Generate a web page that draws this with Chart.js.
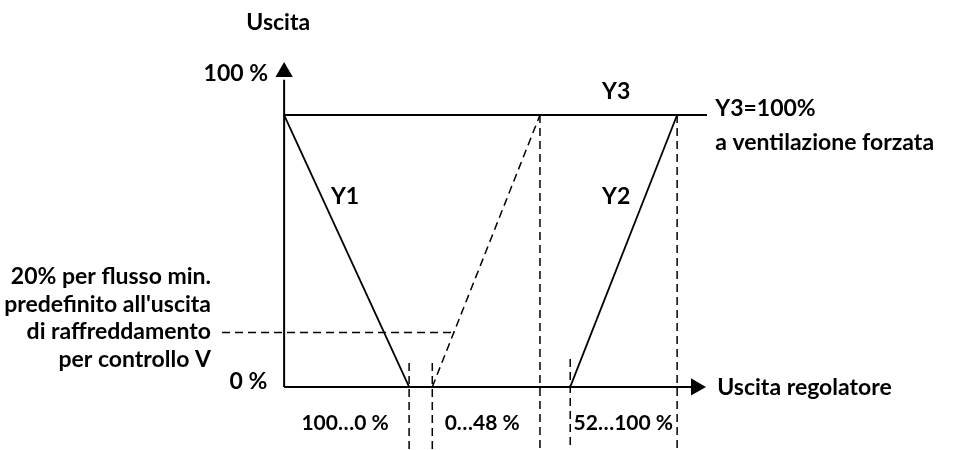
<!DOCTYPE html>
<html>
<head>
<meta charset="utf-8">
<script src="https://cdn.jsdelivr.net/npm/chart.js@4.4.1/dist/chart.umd.min.js"></script>
<style>
  html, body { margin: 0; padding: 0; background: #fff; }
  #wrap { width: 953px; height: 450px; }
</style>
</head>
<body>
<div id="wrap"><canvas id="diagram" width="953" height="450"></canvas></div>
<script>
// x = controller output position (schematic, Y2 end = 100), y = output %
const xY1End = 31.8;
const xCoolStart = 37.7;
const xCoolEnd = 65.1;
const xY2Start = 72.8;
const xY2End = 100;
const xLineEnd = 107.6;
const minFlow = 20;
const yBottom = -23.2;

const y1Line = [{ x: 0, y: 100 }, { x: xY1End, y: 0 }];
const y2Line = [{ x: xY2Start, y: 0 }, { x: xY2End, y: 100 }];
const y3Line = [{ x: 0, y: 100 }, { x: xLineEnd, y: 100 }];
const coolLine = [{ x: xCoolStart, y: 0 }, { x: xCoolEnd, y: 100 }];
const minFlowLine = [{ x: -15.8, y: minFlow }, { x: 43.5, y: minFlow }];
const markers = [
  [{ x: xY1End, y: 8.8 }, { x: xY1End, y: yBottom }],
  [{ x: xCoolStart, y: 8.8 }, { x: xCoolStart, y: yBottom }],
  [{ x: xCoolEnd, y: 100 }, { x: xCoolEnd, y: yBottom }],
  [{ x: xY2Start, y: 10.3 }, { x: xY2Start, y: yBottom }],
  [{ x: xY2End, y: 100 }, { x: xY2End, y: yBottom }]
];
const xAxis = [{ x: 0, y: 0 }, { x: 104, y: 0 }];
const yAxis = [{ x: 0, y: 0 }, { x: 0, y: 113 }];
const xArrow = [{ x: 104.8, y: 0 }];
const yArrow = [{ x: 0, y: 115.8 }];

const rangeLabels = ['100…0 %', '0…48 %', '52…100 %'];
const minFlowText = [
  '20% per flusso min.',
  "predefinito all'uscita",
  'di raffreddamento',
  'per controllo V'
];

const labels = [
  { text: 'Uscita', x: -1.5, y: 134, align: 'center' },
  { text: '100 %', x: -4.1, y: 115.4, align: 'right' },
  { text: '0 %', x: -4.3, y: 1.8, align: 'right' },
  { text: rangeLabels[0], x: 15.5, y: -13.2, align: 'center', small: true },
  { text: rangeLabels[1], x: 50.4, y: -13.2, align: 'center', small: true },
  { text: rangeLabels[2], x: 86.3, y: -13.2, align: 'center', small: true },
  { text: 'Y3', x: 84.5, y: 108.5, align: 'center' },
  { text: 'Y1', x: 15.5, y: 69.9, align: 'center' },
  { text: 'Y2', x: 84.5, y: 69.9, align: 'center' },
  { text: 'Y3=100%', x: 109.7, y: 102.2, align: 'left' },
  { text: 'a ventilazione forzata', x: 109.7, y: 90, align: 'left' },
  { text: 'Uscita regolatore', x: 110.2, y: -0.4, align: 'left' },
  { text: minFlowText[0], x: -18.6, y: 40.4, align: 'right' },
  { text: minFlowText[1], x: -18.6, y: 30.1, align: 'right' },
  { text: minFlowText[2], x: -18.6, y: 20.2, align: 'right' },
  { text: minFlowText[3], x: -18.6, y: 9.9, align: 'right' }
];

const solid = (data, width) => ({
  data, showLine: true, borderColor: '#000', borderWidth: width || 1.8,
  pointRadius: 0, fill: false
});
const dashed = data => ({
  data, showLine: true, borderColor: '#000', borderWidth: 1.5,
  borderDash: [8, 5], pointRadius: 0, fill: false
});
const arrow = (data, rotation) => ({
  data, showLine: false, pointStyle: 'triangle', pointRadius: 10,
  pointRotation: rotation, backgroundColor: '#000', borderColor: '#000', borderWidth: 0
});

const textPlugin = {
  id: 'diagramText',
  afterDatasetsDraw(chart) {
    const { ctx, scales: { x, y } } = chart;
    ctx.save();
    ctx.fillStyle = '#000';
    ctx.textBaseline = 'middle';
    labels.forEach(l => {
      ctx.font = `bold ${l.small ? 21 : 23}px Lato, "Open Sans", sans-serif`;
      ctx.textAlign = l.align;
      ctx.fillText(l.text, x.getPixelForValue(l.x), y.getPixelForValue(l.y));
    });
    ctx.restore();
  }
};

new Chart(document.getElementById('diagram').getContext('2d'), {
  type: 'scatter',
  data: {
    datasets: [
      solid(xAxis, 2),
      solid(yAxis, 2),
      arrow(xArrow, 90),
      arrow(yArrow, 0),
      solid(y3Line),
      solid(y1Line),
      solid(y2Line),
      dashed(coolLine),
      dashed(minFlowLine),
      ...markers.map(dashed)
    ]
  },
  plugins: [textPlugin],
  options: {
    responsive: false,
    animation: false,
    events: [],
    layout: { padding: 0, autoPadding: false },
    plugins: { legend: { display: false }, tooltip: { enabled: false } },
    scales: {
      x: { type: 'linear', display: false, min: -72.3, max: 170.2 },
      y: { type: 'linear', display: false, min: yBottom, max: 142.3 }
    }
  }
});
</script>
</body>
</html>
